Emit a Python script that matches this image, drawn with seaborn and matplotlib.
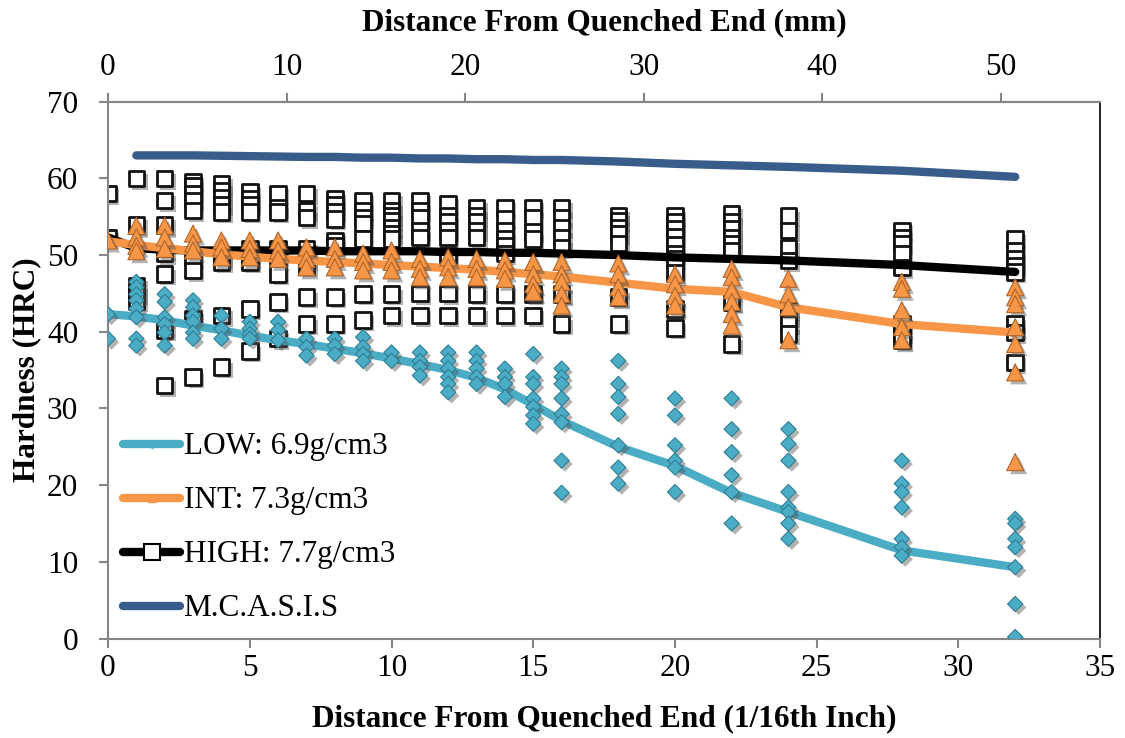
import numpy as np
import pandas as pd
import matplotlib
matplotlib.use("Agg")
import matplotlib.pyplot as plt
import matplotlib.patheffects as pe
from matplotlib.lines import Line2D
import seaborn as sns

# Jominy end-quench hardness, distance in 1/16 inch
distances = [0, 1, 2, 3, 4, 5, 6, 7, 8, 9, 10, 11, 12, 13, 14, 15, 16, 18, 20, 22, 24, 28, 32]

# individual readings per distance
low_readings = [
    [42.3, 39.1], [46.5, 45.8, 44.9, 44.1, 43.0, 41.9, 39.1, 38.2],
    [44.9, 43.9, 41.9, 41.0, 39.9, 38.2], [44.1, 43.2, 42.1, 41.3, 39.9, 39.1],
    [42.1, 40.4, 39.1], [41.3, 40.4, 39.7, 39.1], [41.3, 40.2, 38.9],
    [39.1, 38.0, 36.9], [39.1, 38.2, 37.1], [39.3, 38.0, 37.1, 36.2],
    [37.3, 36.2], [37.3, 36.2, 35.4, 34.3], [37.3, 36.2, 35.2, 34.1, 33.2, 32.1],
    [37.3, 36.2, 35.2, 34.1, 33.2], [35.2, 34.1, 33.2, 31.5],
    [37.1, 34.1, 33.2, 31.3, 30.2, 29.1, 28.0],
    [35.2, 34.1, 33.2, 31.3, 29.3, 28.2, 23.2, 19.0],
    [36.2, 33.2, 31.5, 29.3, 25.2, 22.3, 20.2],
    [31.3, 29.1, 25.2, 23.2, 22.3, 19.1],
    [31.3, 27.3, 24.3, 21.3, 19.1, 15.0],
    [27.3, 25.4, 23.2, 19.1, 17.1, 16.5, 15.0, 13.0],
    [23.2, 20.2, 19.1, 17.1, 13.0, 11.9, 10.8],
    [15.6, 15.0, 13.0, 11.9, 9.3, 4.5, 0.2],
]
int_readings = [
    [51.9], [53.8, 52.3, 51.2, 50.5], [53.8, 52.3, 50.8], [52.8, 51.5, 50.6],
    [51.9, 51.0, 49.7], [51.9, 50.8, 49.7], [51.9, 50.6, 49.5],
    [51.0, 49.5, 48.4], [51.0, 49.5, 48.4], [50.2, 49.1, 48.0],
    [50.6, 49.1, 48.0], [49.5, 48.2, 47.1], [49.7, 48.4, 47.1],
    [49.5, 48.2, 47.1], [49.3, 48.0, 46.9], [49.1, 47.5, 46.2, 45.2],
    [49.1, 47.5, 46.5, 44.9, 43.4], [48.9, 47.5, 45.8, 44.5],
    [47.5, 46.2, 44.7, 43.4], [48.2, 47.1, 45.4, 43.9, 42.3, 40.8],
    [46.9, 44.9, 43.2, 38.9], [46.5, 45.6, 42.8, 40.6, 38.9],
    [45.8, 44.5, 43.6, 40.6, 38.4, 34.7, 23.0],
]
high_readings = [
    [58.0, 52.3], [60.0, 54.0, 46.0, 45.0, 44.0],
    [60.0, 57.1, 54.0, 50.2, 47.5, 40.2, 33.0],
    [59.5, 59.0, 58.0, 57.1, 55.8, 49.7, 48.0, 41.7, 34.1],
    [59.3, 58.4, 57.5, 56.5, 55.6, 49.9, 49.1, 42.1, 35.4],
    [58.2, 57.3, 56.5, 55.6, 50.8, 49.9, 49.1, 43.0, 37.5],
    [58.0, 56.2, 55.6, 50.8, 49.9, 47.5, 43.9, 39.1],
    [58.0, 55.8, 54.9, 50.8, 49.7, 48.6, 44.5, 41.0],
    [57.3, 56.5, 55.6, 54.7, 51.9, 51.2, 44.5, 41.0],
    [57.1, 55.8, 54.9, 54.1, 52.1, 44.9, 41.5],
    [57.1, 55.8, 55.1, 54.5, 53.6, 52.8, 52.1, 44.9, 42.1],
    [57.1, 55.8, 54.9, 53.2, 52.3, 45.0, 42.1],
    [56.7, 55.1, 54.3, 53.2, 52.3, 49.9, 45.0, 42.1],
    [56.2, 55.1, 54.3, 53.2, 52.3, 44.9, 42.1],
    [56.2, 54.7, 53.2, 52.1, 51.2, 50.2, 44.9, 42.1],
    [56.2, 54.9, 53.0, 52.1, 44.9, 42.1],
    [56.2, 54.9, 53.6, 52.3, 51.0, 44.9, 41.0],
    [55.1, 54.5, 53.6, 52.8, 51.5, 44.5, 41.0],
    [55.1, 54.3, 53.4, 52.4, 51.4, 50.2, 49.5, 47.7, 43.0, 40.5],
    [55.4, 54.3, 53.4, 52.3, 51.5, 50.6, 43.9, 38.4],
    [55.1, 53.2, 51.0, 49.3, 42.8, 41.9, 41.0, 39.7],
    [53.2, 52.3, 51.5, 50.2, 48.4, 41.0, 39.9, 38.9],
    [52.1, 50.6, 49.5, 48.6, 47.8, 41.0, 39.9, 36.0],
]

# average curves
low_mean = [42.3, 42.0, 41.5, 40.8, 40.2, 39.5, 38.9, 38.4, 37.8, 37.2, 36.5, 35.8,
            35.0, 34.0, 32.5, 30.5, 28.4, 25.0, 22.5, 19.0, 16.5, 11.5, 9.3]
int_mean = [51.8, 51.3, 50.9, 50.5, 50.1, 49.8, 49.5, 49.3, 49.1, 48.9, 48.7, 48.5,
            48.3, 48.1, 47.8, 47.5, 47.2, 46.4, 45.6, 45.2, 43.2, 41.0, 39.9]
high_mean = [52.3, 50.9, 50.7, 50.6, 50.6, 50.6, 50.6, 50.6, 50.5, 50.5, 50.5, 50.5,
             50.4, 50.4, 50.3, 50.3, 50.2, 50.0, 49.7, 49.5, 49.3, 48.7, 47.8]
mcasis_dist = [1, 2, 3, 4, 5, 6, 7, 8, 9, 10, 11, 12, 13, 14, 15, 16, 18, 20, 22, 24, 28, 32]
mcasis_hrc = [63.0, 63.0, 63.0, 62.95, 62.9, 62.85, 62.8, 62.8, 62.7, 62.7, 62.6, 62.6,
              62.5, 62.5, 62.4, 62.4, 62.2, 61.9, 61.7, 61.5, 61.0, 60.2]

labels = ["LOW: 6.9g/cm3", "INT: 7.3g/cm3", "HIGH: 7.7g/cm3", "M.C.A.S.I.S"]
C_LOW, C_INT, C_HIGH, C_MC = "#4BACC6", "#F79646", "#000000", "#385D8A"
GRAY = "#868686"

sns.set_theme(style="white")
plt.rcParams["font.family"] = ["Liberation Serif", "DejaVu Serif"]
for key in ["text.color", "axes.labelcolor", "xtick.color", "ytick.color"]:
    plt.rcParams[key] = "black"


def readings_frame(readings):
    xs, ys = [], []
    for d, vals in zip(distances, readings):
        xs += [d] * len(vals)
        ys += vals
    return pd.DataFrame({"dist": xs, "hrc": ys})


low_df = readings_frame(low_readings)
int_df = readings_frame(int_readings)
high_df = readings_frame(high_readings)
mean_df = pd.DataFrame({"dist": distances, "low": low_mean, "int": int_mean, "high": high_mean})
mc_df = pd.DataFrame({"dist": mcasis_dist, "hrc": mcasis_hrc})

fig = plt.figure(figsize=(11.25, 7.38), dpi=100)
ax = fig.add_axes([0.096, 0.1348, 0.882, 0.7274])

shadow = [pe.SimplePatchShadow(offset=(2.5, -2.5), shadow_rgbFace="#555555", alpha=0.45), pe.Normal()]
line_kw = dict(linewidth=6.0, solid_capstyle="round", solid_joinstyle="round", legend=False)

sns.scatterplot(data=high_df, x="dist", y="hrc", ax=ax, marker="s", s=125,
                facecolor="white", edgecolor="#111111", linewidth=2.0, zorder=2, legend=False)
ax.collections[-1].set_path_effects(shadow)

sns.lineplot(data=mc_df, x="dist", y="hrc", ax=ax, color=C_MC, zorder=3, **line_kw)
sns.lineplot(data=mean_df, x="dist", y="high", ax=ax, color=C_HIGH, zorder=3, **line_kw)
sns.lineplot(data=mean_df, x="dist", y="int", ax=ax, color=C_INT, zorder=3, **line_kw)
sns.lineplot(data=mean_df, x="dist", y="low", ax=ax, color=C_LOW, zorder=3, **line_kw)

sns.scatterplot(data=int_df, x="dist", y="hrc", ax=ax, marker="^", s=150,
                color=C_INT, edgecolor="#B0652A", linewidth=0.8, zorder=4, legend=False)
ax.collections[-1].set_path_effects(shadow)
sns.scatterplot(data=low_df, x="dist", y="hrc", ax=ax, marker="D", s=60,
                color=C_LOW, edgecolor="#2F7F95", linewidth=0.8, zorder=5, legend=False)
ax.collections[-1].set_path_effects(shadow)

ax.set_xlim(0, 35)
ax.set_ylim(0, 70)
ax.set_xticks(range(0, 36, 5))
ax.set_yticks(range(0, 71, 10))

fs = 22.5
for side in ["left", "bottom", "top"]:
    ax.spines[side].set_color(GRAY)
    ax.spines[side].set_linewidth(1.5)
ax.spines["right"].set_color("black")
ax.spines["right"].set_linewidth(1.2)
ax.tick_params(axis="y", left=True, direction="out", length=6.5, width=1.5, color=GRAY,
               labelsize=fs, pad=15)
ax.tick_params(axis="x", bottom=True, direction="out", length=6.5, width=1.5, color=GRAY,
               labelsize=fs, pad=5)

ax.set_xlabel("Distance From Quenched End (1/16th Inch)", fontsize=fs, fontweight="bold", labelpad=15)
ax.set_ylabel("Hardness (HRC)", fontsize=fs, fontweight="bold", labelpad=4)

# millimetre scale on top
MM_PER_SIXTEENTH = 25.4 / 16
top = ax.secondary_xaxis("top", functions=(lambda x: x * MM_PER_SIXTEENTH,
                                           lambda mm: mm / MM_PER_SIXTEENTH))
top.set_xticks(range(0, 51, 10))
top.spines["top"].set_color(GRAY)
top.spines["top"].set_linewidth(1.5)
top.tick_params(axis="x", direction="out", length=6.5, width=1.5, color=GRAY, labelsize=fs, pad=8)
top.set_xlabel("Distance From Quenched End (mm)", fontsize=fs, fontweight="bold", labelpad=16)

handles = [
    Line2D([], [], color=C_LOW, lw=6, solid_capstyle="round", marker="D", ms=4,
           markerfacecolor=C_LOW, markeredgecolor=C_LOW),
    Line2D([], [], color=C_INT, lw=6, solid_capstyle="round", marker="^", ms=6,
           markerfacecolor=C_INT, markeredgecolor=C_INT),
    Line2D([], [], color=C_HIGH, lw=6, solid_capstyle="round", marker="s", ms=11,
           markerfacecolor="white", markeredgecolor="black", markeredgewidth=1.5),
    Line2D([], [], color=C_MC, lw=6, solid_capstyle="round"),
]
ax.legend(handles, labels, loc="upper left", bbox_to_anchor=(0.109, 0.414),
          bbox_transform=fig.transFigure, frameon=False, fontsize=fs,
          handlelength=1.85, handletextpad=0.1, labelspacing=0.80, borderpad=0,
          borderaxespad=0)

fig.savefig("out.png", dpi=100)
